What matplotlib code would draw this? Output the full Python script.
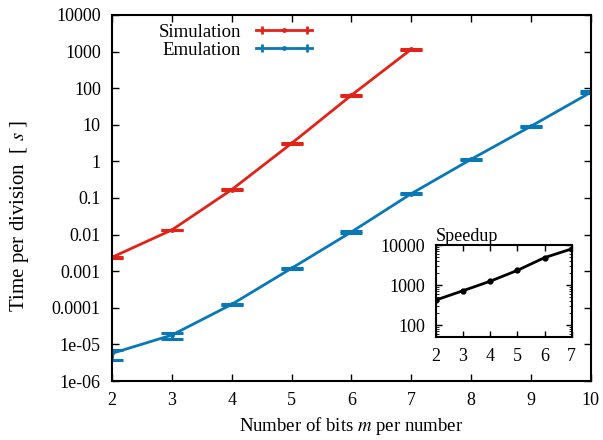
import numpy as np
import matplotlib.pyplot as plt
from matplotlib.lines import Line2D
from matplotlib.legend_handler import HandlerLine2D, HandlerTuple

plt.rcParams['font.family'] = ['Liberation Serif', 'DejaVu Serif']
plt.rcParams['mathtext.fontset'] = 'stix'
plt.rcParams['font.size'] = 13.5

# data
m_sim = [2, 3, 4, 5, 6, 7]
t_sim = [0.0024, 0.0134, 0.169, 3.1, 64, 1156]
t_sim_lo = [0.00235, 0.0131, 0.165, 3.02, 62, 1130]
t_sim_hi = [0.00245, 0.0137, 0.173, 3.18, 66, 1180]

m_emu = [2, 3, 4, 5, 6, 7, 8, 9, 10]
t_emu = [5.7e-6, 1.8e-5, 1.24e-4, 1.2e-3, 0.0118, 0.131, 1.14, 9.1, 77]
t_emu_lo = [3.75e-6, 1.45e-5, 1.18e-4, 1.14e-3, 0.0114, 0.127, 1.1, 8.8, 72]
t_emu_hi = [7.0e-6, 2.1e-5, 1.30e-4, 1.26e-3, 0.0122, 0.135, 1.18, 9.4, 84]

m_speed = [2, 3, 4, 5, 6, 7]
speedup = [424, 727, 1256, 2350, 4900, 8130]

red = '#e2231a'
blue = '#0a78b8'

fig = plt.figure(figsize=(6.03, 4.40), dpi=100)
ax = fig.add_axes([0.1857, 0.134, 0.794, 0.832])

def errs(v, lo, hi):
    v = np.array(v)
    return [v - np.array(lo), np.array(hi) - v]

ax.errorbar(m_sim, t_sim, yerr=errs(t_sim, t_sim_lo, t_sim_hi), color=red,
            lw=2, marker='o', ms=2.5, capsize=8, capthick=2.2, elinewidth=2)
ax.errorbar(m_emu, t_emu, yerr=errs(t_emu, t_emu_lo, t_emu_hi), color=blue,
            lw=2, marker='o', ms=2.5, capsize=8, capthick=2.2, elinewidth=2)

ax.set_yscale('log')
ax.set_xlim(2, 10)
ax.set_ylim(1e-6, 1e4)
ax.set_yticks([1e-6, 1e-5, 1e-4, 1e-3, 1e-2, 0.1, 1, 10, 100, 1000, 10000])
ax.set_yticklabels(['1e-06', '1e-05', '0.0001', '0.001', '0.01', '0.1', '1',
                    '10', '100', '1000', '10000'])
ax.minorticks_off()
ax.set_xticks(range(2, 11))
ax.tick_params(direction='in', top=True, right=True, length=5, width=1,
               labelsize=13)
ax.tick_params(axis='y', pad=8)
ax.tick_params(axis='x', pad=8)
for s in ax.spines.values():
    s.set_linewidth(1.5)
ax.set_xlabel('Number of bits $m$ per number', labelpad=4)
ax.set_ylabel('Time per division  [ $s$ ]', fontsize=15)
ax.yaxis.set_label_coords(-0.17, 0.45)

# legend samples: line, end caps, middle dot
handles = []
hmap = {}
for c in [red, blue]:
    ln = Line2D([], [], color=c, lw=2)
    caps = Line2D([], [], color=c, lw=0, marker='|', ms=6, mew=2)
    dot = Line2D([], [], color=c, lw=0, marker='o', ms=2.5)
    hmap[caps] = HandlerLine2D(numpoints=2)
    hmap[dot] = HandlerLine2D(numpoints=1)
    handles.append((ln, caps, dot))
hmap[tuple] = HandlerTuple(ndivide=1, pad=0)
ax.legend(handles, ['Simulation', 'Emulation'], handler_map=hmap,
          loc='upper left', bbox_to_anchor=(0.07, 1.012), frameon=False,
          markerfirst=False, handlelength=3.0, borderaxespad=0.3,
          labelspacing=0.05, handletextpad=0.8)

# inset
ins = fig.add_axes([0.723, 0.2348, 0.225, 0.2077])
ins.plot(m_speed, speedup, color='black', lw=2, marker='o', ms=3.5)
ins.set_yscale('log')
ins.set_xlim(2, 7)
ins.set_ylim(51, 10000)
ins.set_yticks([100, 1000, 10000])
ins.set_yticklabels(['100', '1000', '10000'])
ins.set_xticks(range(2, 8))
ins.tick_params(direction='in', right=True, top=True, length=4, width=1,
                pad=8, labelsize=13)
ins.tick_params(which='minor', direction='in', right=True, length=2)
for s in ins.spines.values():
    s.set_linewidth(1.5)
ins.set_title('Speedup', loc='left', pad=3, fontsize=13)

fig.savefig('out.png', dpi=100)
